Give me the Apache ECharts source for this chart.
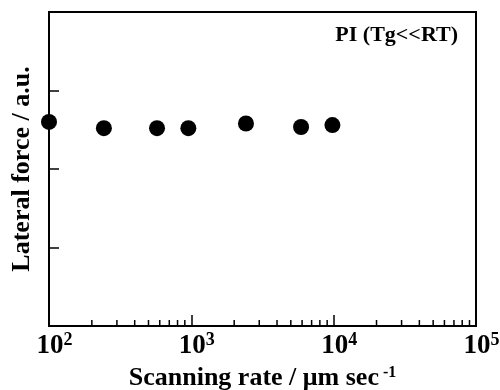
<!DOCTYPE html>
<html>
<head>
<meta charset="utf-8">
<script src="https://cdn.jsdelivr.net/npm/echarts@6/dist/echarts.min.js"></script>
<style>
  html, body { margin: 0; padding: 0; background: #fff; }
  #chart { width: 500px; height: 390px; }
</style>
</head>
<body>
<div id="chart"></div>
<script>
  // scanning rate (um/sec) and lateral force (a.u.)
  var rates = [100, 243, 574, 953, 2420, 5900, 9800];
  var force = [2.60, 2.52, 2.52, 2.52, 2.58, 2.535, 2.56];
  // minor log ticks along the bottom axis
  var minorTicks = [200, 300, 400, 500, 600, 700, 800, 900,
                    2000, 3000, 4000, 5000, 6000, 7000, 8000, 9000,
                    20000, 30000, 40000, 50000, 60000, 70000, 80000, 90000];
  var titleText = 'PI (Tg<<RT)';
  var yName = 'Lateral force / a.u.';

  var serif = "'Liberation Serif', 'Times New Roman', serif";
  var chart = echarts.init(document.getElementById('chart'), null, {renderer: 'canvas'});

  var option = {
    animation: false,
    backgroundColor: '#fff',
    textStyle: { fontFamily: serif },
    title: {
      text: titleText,
      right: 37,
      top: 19,
      textStyle: { fontFamily: serif, fontSize: 22, fontWeight: 'bold', color: '#000' }
    },
    grid: {
      left: 49, right: 24, top: 12, bottom: 64,
      outerBoundsMode: 'none',
      containLabel: false,
      show: true, borderColor: '#000', borderWidth: 2, backgroundColor: 'transparent'
    },
    xAxis: {
      type: 'log',
      logBase: 10,
      min: 100,
      max: 100000,
      nameLocation: 'middle',
      nameGap: 38,
      name: '{n|Scanning rate / \u03bcm sec}{s| -1}',
      nameTextStyle: {
        rich: {
          n: { fontFamily: serif, fontSize: 26, fontWeight: 'bold', color: '#000', verticalAlign: 'bottom' },
          s: { fontFamily: serif, fontSize: 16, fontWeight: 'bold', color: '#000', verticalAlign: 'top', padding: [0, 0, 10, 0] }
        }
      },
      axisLine: { lineStyle: { color: '#000', width: 2 } },
      axisTick: { inside: true, length: 11, lineStyle: { color: '#000', width: 1.5 } },
      minorTick: { show: false },
      splitLine: { show: false },
      axisLabel: {
        margin: 5,
        formatter: function (v) {
          return '{b|10}{s|' + Math.round(Math.log10(v)) + '}';
        },
        rich: {
          b: { fontFamily: serif, fontSize: 27, fontWeight: 'bold', color: '#000', padding: [0, 0, 0, 11], verticalAlign: 'bottom' },
          s: { fontFamily: serif, fontSize: 18, fontWeight: 'bold', color: '#000', verticalAlign: 'top', padding: [0, 0, 11, 0] }
        }
      }
    },
    yAxis: {
      type: 'value',
      min: 0,
      max: 4,
      interval: 1,
      name: yName,
      nameLocation: 'middle',
      nameGap: 14,
      nameTextStyle: { fontFamily: serif, fontSize: 26, fontWeight: 'bold', color: '#000' },
      axisLine: { show: true, lineStyle: { color: '#000', width: 2 } },
      axisTick: { show: true, inside: true, length: 10, lineStyle: { color: '#000', width: 1.5 } },
      axisLabel: { show: false },
      splitLine: { show: false }
    },
    series: [
      {
        type: 'scatter',
        data: rates.map(function (r, i) { return [r, force[i]]; }),
        symbol: 'circle',
        symbolSize: 16,
        itemStyle: { color: '#000', opacity: 1 },
        clip: false,
        silent: true
      },
      {
        type: 'scatter',
        data: minorTicks.map(function (t) { return [t, 0]; }),
        symbol: 'rect',
        symbolSize: [1.5, 6],
        symbolOffset: [0, -3],
        itemStyle: { color: '#000', opacity: 1 },
        silent: true
      }
    ]
  };
  chart.setOption(option);
</script>
</body>
</html>
